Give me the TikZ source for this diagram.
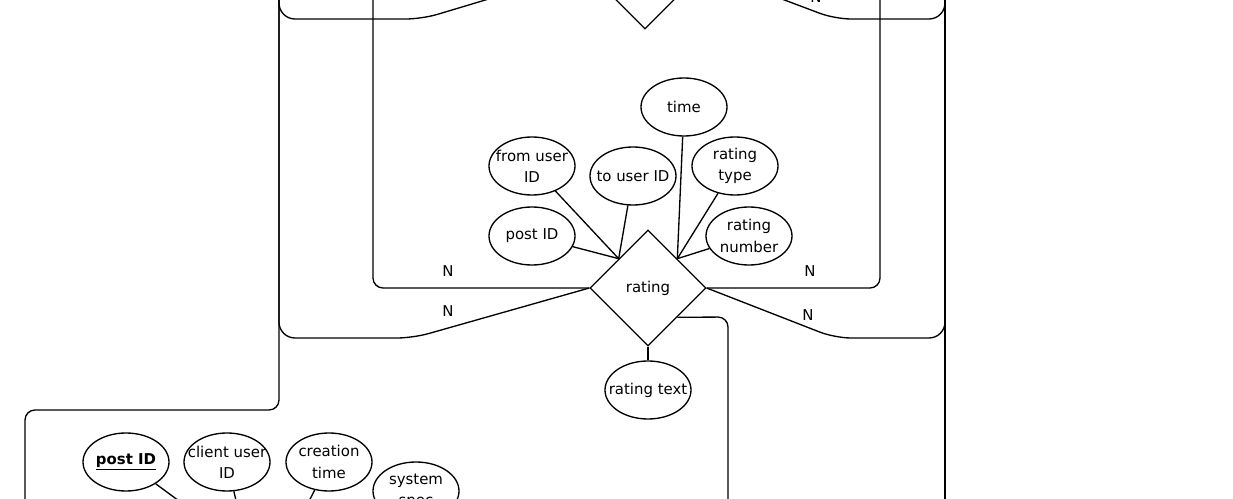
\documentclass[tikz,border=0pt]{standalone}
\usepackage{fontspec}
\setmainfont{DejaVu Sans}
\usetikzlibrary{shapes.geometric,calc}

\tikzset{every picture/.style={line width=1pt}}
\tikzset{
  attr/.style={draw,ellipse,minimum width=64.5pt,minimum height=43.5pt,inner xsep=-8pt,inner ysep=0pt,align=center,font=\fontsize{11.2}{16}\selectfont},
  rel/.style={draw,diamond,minimum width=87pt,minimum height=87pt,inner sep=0pt,font=\fontsize{11.2}{16}\selectfont},
  card/.style={font=\fontsize{11.2}{16}\selectfont},
  link/.style={rounded corners=7.5pt}
}

\begin{document}
\begin{tikzpicture}[x=0.75pt,y=0.75pt,yscale=-1]
  \path[use as bounding box,clip] (0,0) rectangle (1233,499);

  %Shape: Diamond [upper relation]
  \node[rel,minimum width=88.5pt,minimum height=88.5pt] (upperRel) at (645,-30) {};
  %Shape: Diamond [rating]
  \node[rel] (rating) at (648,288) {rating};

  %Shape: Ellipse [rating attributes]
  \node[attr] (time) at (684,107) {time};
  \node[attr] (fromUser) at (532,166) {from user\\ID};
  \node[attr] (toUser) at (633,176) {to user ID};
  \node[attr] (ratingType) at (735,166) {rating\\type};
  \node[attr] (postRef) at (532,236) {post ID};
  \node[attr] (ratingNumber) at (749,236) {rating\\number};
  \node[attr] (ratingText) at (648,390) {rating text};

  %Shape: Ellipse [post attributes]
  \node[attr] (postKey) at (126,462) {\underline{\textbf{post ID}}};
  \node[attr] (clientUser) at (227,462) {client user\\ID};
  \node[attr] (creationTime) at (329,462) {creation\\time};
  \node[attr] (systemSpec) at (416,491) {system\\spec};

  % anchor points
  \coordinate (rNW) at ($(rating.west)!0.5!(rating.north)$);
  \coordinate (rNE) at ($(rating.east)!0.5!(rating.north)$);
  \coordinate (rSE) at ($(rating.east)!0.5!(rating.south)$);
  \coordinate (outA) at (279,-20);
  \coordinate (outB) at (373,-20);
  \coordinate (outC) at (880,-20);
  \coordinate (outD) at (945,-20);
  \coordinate (outE) at (25,520);
  \coordinate (outF) at (728,520);
  \coordinate (outG) at (945,520);
  \coordinate (postA) at (190,509);
  \coordinate (postB) at (238,509);
  \coordinate (postC) at (305,509);

  %Straight Lines [attributes to rating]
  \draw (postRef) -- (rNW);
  \draw (fromUser) -- (rNW);
  \draw (toUser) -- (rNW);
  \draw (time) -- (rNE);
  \draw (ratingType) -- (rNE);
  \draw (ratingNumber) -- (rNE);
  \draw (rating) -- (ratingText);

  %Straight Lines [attributes to post]
  \draw (postKey) -- (postA);
  \draw (clientUser) -- (postB);
  \draw (creationTime) -- (postC);

  %Routed Lines [upper relation]
  \draw[link,rounded corners=12pt] (upperRel.west) -- (422,19) -- (279,19) -- (outA);
  \draw[link,rounded corners=12pt] (upperRel.east) -- (835,19) -- (945,19) -- (outD);

  %Routed Lines [rating]
  \draw[link] (rating.west) -- (373,288) -- (outB);
  \draw[link] (rating.east) -- (880,288) -- (outC);
  \draw[link,rounded corners=12pt] (rating.west) -- (413,338) -- (279,338) -- (outA);
  \draw[link,rounded corners=12pt] (rating.east) -- (835,338) -- (945,338) -- (outD);
  \draw[link] (rSE) -- (728,317) -- (outF);

  %Routed Lines [through]
  \draw[link] (outA) -- (279,410) -- (25,410) -- (outE);
  \draw (outD) -- (outG);

  % Text Node
  \node[card] (nTopL) at (455,-5) {N};
  \node[card] (nTopR) at (816,-3) {N};
  \node[card] (nMidL) at (448,271) {N};
  \node[card] (nMidR) at (810,271) {N};
  \node[card] (nLowL) at (448,311) {N};
  \node[card] (nLowR) at (808,315) {N};

\end{tikzpicture}
\end{document}
